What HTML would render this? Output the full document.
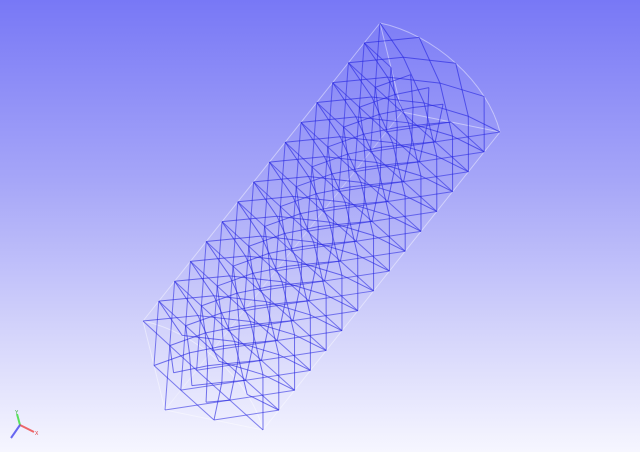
<!DOCTYPE html>
<html><head><meta charset="utf-8"><style>
html,body{margin:0;padding:0}
body{width:640px;height:452px;overflow:hidden;background:linear-gradient(#7878f6 0%,#a6a6f8 40%,#d6d6fb 75%,#f6f6ff 100%);font-family:"Liberation Sans",sans-serif}
svg{position:absolute;left:0;top:0}
</style></head><body>
<svg id="view" width="640" height="452" viewBox="0 0 640 452"></svg>
<script>
// Mesh description (quarter-cylinder, structured grid)
const sliceCount = 15;
const ringRadii = [0.5, 1.0];
const angleDivs = 4;
const C=[402,112], U=[-22,-89], V=[98,20], W=[-237,298];
function P(r,th,t){return [C[0]+r*(Math.cos(th)*U[0]+Math.sin(th)*V[0])+t*W[0], C[1]+r*(Math.cos(th)*U[1]+Math.sin(th)*V[1])+t*W[1]];}
const svg=document.getElementById('view');
const NS='http://www.w3.org/2000/svg';
function line(a,b,col,w,op,name){const l=document.createElementNS(NS,'line');
l.setAttribute('x1',a[0]);l.setAttribute('y1',a[1]);l.setAttribute('x2',b[0]);l.setAttribute('y2',b[1]);
l.setAttribute('stroke',col);l.setAttribute('stroke-width',w);l.setAttribute('stroke-opacity',op);


svg.appendChild(l);}
const blue='#2222e0';
const HP=Math.PI/2;
const oc='#ffffff', oo=0.45;
function arc(t,name){for(let j=0;j<16;j++){line(P(1,HP*j/16,t),P(1,HP*(j+1)/16,t),oc,1,oo,name);}}
arc(0,'outline-top-arc');arc(1,'outline-bottom-arc');
line(P(0,0,0),P(1,0,0),oc,1,oo,'outline-edge');
line(P(0,0,0),P(1,HP,0),oc,1,oo,'outline-edge');
line(P(0,0,1),P(1,0,1),oc,1,oo,'outline-edge');
line(P(0,0,1),P(1,HP,1),oc,1,oo,'outline-edge');
line(P(1,0,0),P(1,0,1),oc,1,oo,'outline-edge');
line(P(1,HP,0),P(1,HP,1),oc,1,oo,'outline-edge');
line(P(0,0,0),P(0,0,1),oc,1,0.3,'outline-edge');
for(let i=0;i<sliceCount;i++){
  const t0=i/sliceCount, t1=(i+1)/sliceCount;
  ringRadii.forEach(r=>{
    for(let j=0;j<angleDivs;j++){
      const a=HP*j/angleDivs,b=HP*(j+1)/angleDivs;
      line(P(r,a,t0),P(r,b,t1),blue,1,0.6,'mesh-edge');
      line(P(r,b,t0),P(r,a,t1),blue,1,0.6,'mesh-edge');
    }
  });
  for(let k=0;k<ringRadii.length;k++){
    const r0=k?ringRadii[k-1]:0, r1=ringRadii[k];
    line(P(r0,0,t0),P(r1,0,t1),blue,1,0.55,'mesh-edge');
    line(P(r1,0,t0),P(r0,0,t1),blue,1,0.55,'mesh-edge');
    line(P(r0,HP,t0),P(r1,HP,t1),blue,1,0.55,'mesh-edge');
    line(P(r1,HP,t0),P(r0,HP,t1),blue,1,0.55,'mesh-edge');
  }
}
line([20,425],[17,414],'#33dd33',2,0.8,'axis-y');
line([20,425],[34,432],'#ee4444',2,0.8,'axis-x');
line([20,425],[11,438],'#4444ee',2,0.8,'axis-z');
[['Y',15,414,'#33aa33'],['X',35,435,'#dd3333']].forEach(d=>{const t=document.createElementNS(NS,'text');
t.setAttribute('x',d[1]);t.setAttribute('y',d[2]);t.setAttribute('font-size','5');t.setAttribute('fill',d[3]);t.textContent=d[0];


svg.appendChild(t);});
</script>
</body></html>
